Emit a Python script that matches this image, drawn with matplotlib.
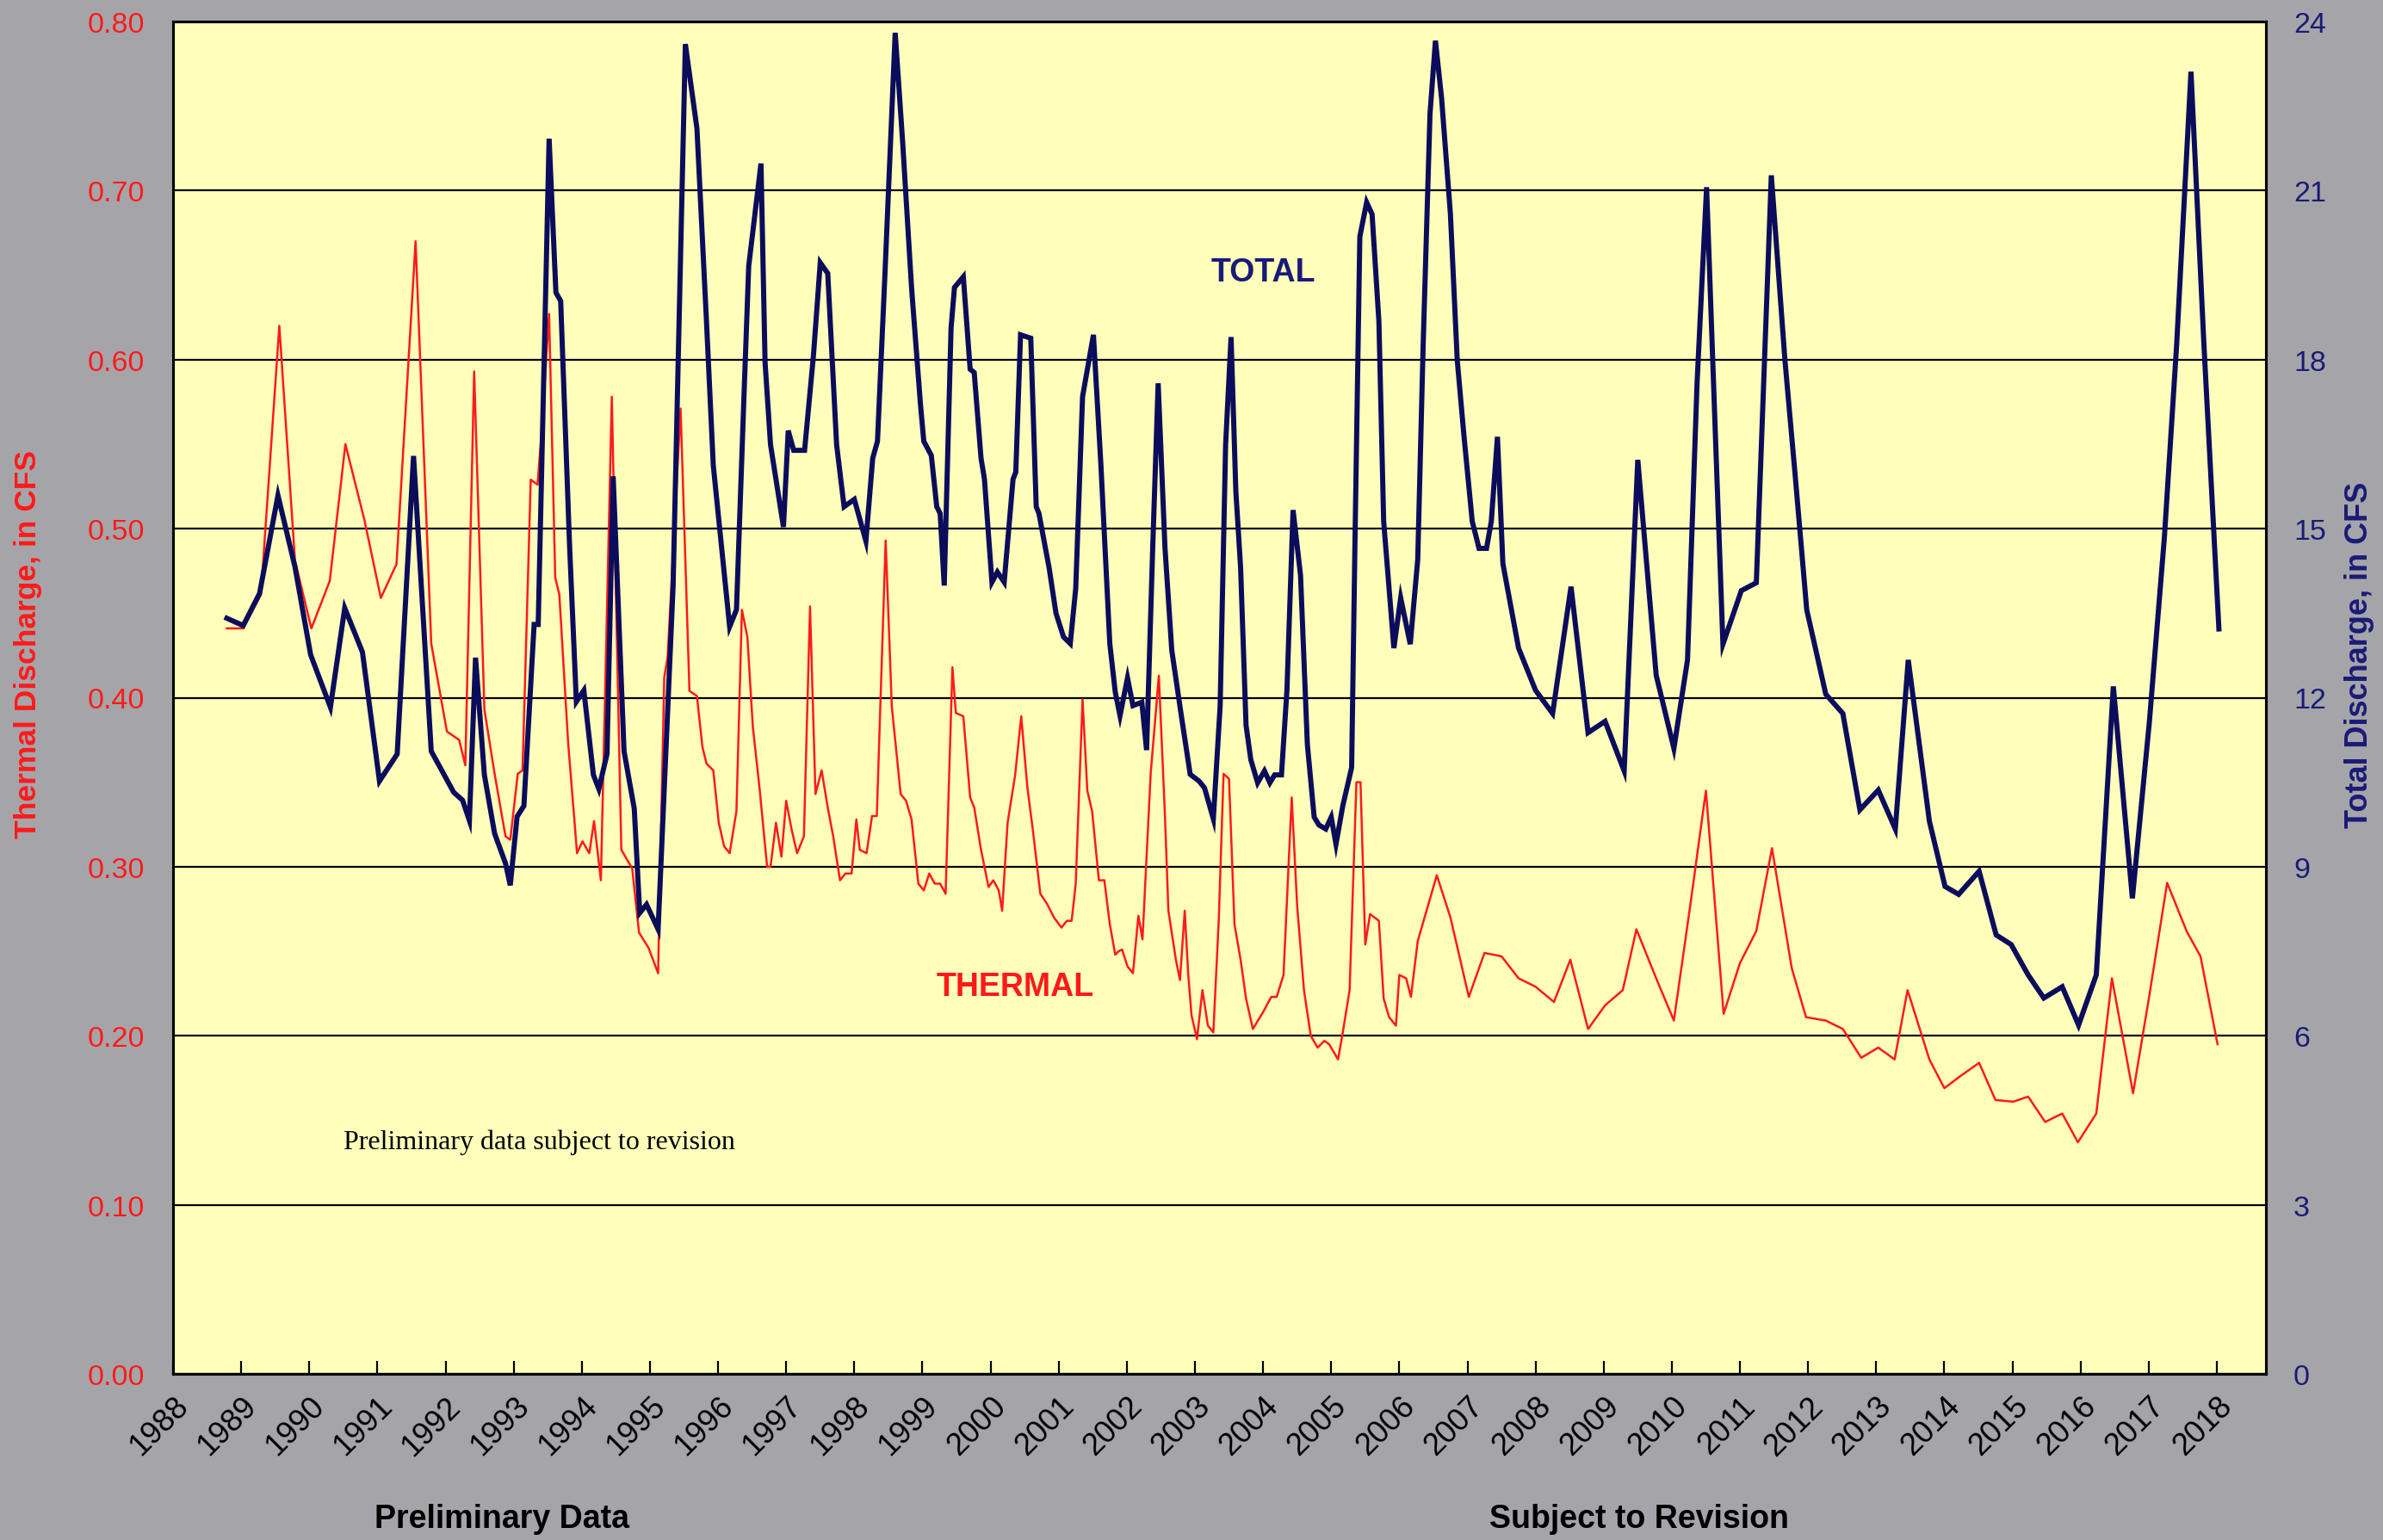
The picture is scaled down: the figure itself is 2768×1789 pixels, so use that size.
import numpy as np
import matplotlib
matplotlib.use("Agg")
import matplotlib.pyplot as plt
from matplotlib.ticker import FormatStrFormatter

# ---- data (decimal years) ----
total_years = [
    1988.79, 1989.03, 1989.27, 1989.54, 1989.79, 1990.02, 1990.31, 1990.52, 1990.78, 1991.03,
    1991.29, 1991.53, 1991.79, 1992.12, 1992.25, 1992.35, 1992.44, 1992.57, 1992.72, 1992.88,
    1992.95, 1993.05, 1993.15, 1993.30, 1993.36, 1993.52, 1993.62, 1993.69, 1993.82, 1993.92,
    1994.03, 1994.17, 1994.25, 1994.37, 1994.46, 1994.62, 1994.77, 1994.85, 1994.95, 1995.12,
    1995.29, 1995.34, 1995.52, 1995.69, 1995.83, 1995.93, 1996.17, 1996.27, 1996.38, 1996.45,
    1996.63, 1996.69, 1996.77, 1996.96, 1997.03, 1997.11, 1997.27, 1997.40, 1997.50, 1997.61,
    1997.74, 1997.85, 1998.00, 1998.17, 1998.27, 1998.34, 1998.45, 1998.60, 1998.71, 1998.84,
    1998.97, 1999.02, 1999.13, 1999.21, 1999.26, 1999.32, 1999.42, 1999.47, 1999.60, 1999.70,
    1999.76, 1999.86, 1999.91, 2000.02, 2000.10, 2000.20, 2000.33, 2000.37, 2000.44, 2000.59,
    2000.67, 2000.71, 2000.86, 2000.96, 2001.07, 2001.17, 2001.25, 2001.35, 2001.51, 2001.62,
    2001.75, 2001.83, 2001.90, 2002.01, 2002.09, 2002.22, 2002.29, 2002.38, 2002.46, 2002.56,
    2002.66, 2002.80, 2002.93, 2003.06, 2003.14, 2003.27, 2003.37, 2003.45, 2003.53, 2003.60,
    2003.67, 2003.75, 2003.82, 2003.92, 2004.02, 2004.10, 2004.17, 2004.27, 2004.35, 2004.44,
    2004.55, 2004.65, 2004.75, 2004.82, 2004.92, 2005.00, 2005.07, 2005.17, 2005.30, 2005.35,
    2005.42, 2005.52, 2005.60, 2005.70, 2005.77, 2005.92, 2006.02, 2006.16, 2006.27, 2006.35,
    2006.45, 2006.53, 2006.62, 2006.75, 2006.85, 2006.95, 2007.07, 2007.17, 2007.28, 2007.35,
    2007.44, 2007.52, 2007.75, 2008.00, 2008.25, 2008.52, 2008.77, 2009.02, 2009.30, 2009.50,
    2009.77, 2010.03, 2010.23, 2010.37, 2010.51, 2010.62, 2010.75, 2011.02, 2011.24, 2011.46,
    2011.66, 2011.81, 2011.98, 2012.26, 2012.51, 2012.76, 2013.03, 2013.28, 2013.47, 2013.78,
    2014.01, 2014.21, 2014.51, 2014.76, 2014.98, 2015.23, 2015.46, 2015.73, 2015.97, 2016.23,
    2016.48, 2016.76, 2017.01, 2017.23, 2017.41, 2017.62, 2017.81, 2018.03,
]
total_cfs = [
    13.41, 13.28, 13.85, 15.59, 14.32, 12.76, 11.83, 13.59, 12.81, 10.52,
    11.00, 16.29, 11.05, 10.32, 10.18, 9.82, 12.71, 10.63, 9.59, 9.06,
    8.67, 9.89, 10.08, 13.30, 13.30, 21.92, 19.19, 19.04, 14.71, 11.93,
    12.13, 10.63, 10.38, 11.00, 15.93, 11.05, 10.03, 8.18, 8.33, 7.89,
    12.57, 13.98, 23.60, 22.10, 18.68, 16.12, 13.26, 13.56, 17.34, 19.66,
    21.48, 17.95, 16.49, 15.03, 16.74, 16.39, 16.39, 18.07, 19.72, 19.53,
    16.49, 15.39, 15.52, 14.78, 16.25, 16.55, 19.53, 23.80, 21.85, 19.28,
    17.22, 16.55, 16.30, 15.39, 15.27, 13.99, 18.56, 19.28, 19.47, 17.83,
    17.77, 16.25, 15.88, 14.05, 14.23, 14.05, 15.88, 16.00, 18.44, 18.38,
    15.39, 15.27, 14.30, 13.50, 13.08, 12.96, 13.94, 17.34, 18.44, 16.12,
    12.96, 12.10, 11.68, 12.35, 11.86, 11.92, 11.07, 14.66, 17.58, 14.66,
    12.84, 11.68, 10.64, 10.52, 10.40, 9.85, 11.86, 16.49, 18.40, 15.67,
    14.31, 11.51, 10.90, 10.49, 10.70, 10.49, 10.63, 10.63, 12.13, 15.33,
    14.17, 11.17, 9.88, 9.74, 9.67, 9.88, 9.40, 10.08, 10.76, 14.86,
    20.18, 20.79, 20.58, 18.68, 15.13, 12.88, 13.77, 12.95, 14.45, 18.27,
    22.36, 23.66, 22.64, 20.58, 17.99, 16.63, 15.13, 14.65, 14.65, 15.13,
    16.63, 14.38, 12.88, 12.13, 11.72, 13.97, 11.38, 11.58, 10.70, 16.22,
    12.40, 11.10, 12.67, 17.58, 21.06, 17.31, 12.95, 13.90, 14.04, 21.27,
    17.99, 15.95, 13.56, 12.06, 11.72, 10.01, 10.36, 9.67, 12.67, 9.81,
    8.65, 8.51, 8.92, 7.79, 7.62, 7.08, 6.67, 6.87, 6.19, 7.08,
    12.20, 8.44, 11.58, 14.85, 18.27, 23.11, 18.27, 13.22,
]

thermal_years = [
    1988.79, 1989.03, 1989.29, 1989.56, 1989.79, 1990.03, 1990.30, 1990.53, 1990.81, 1991.05,
    1991.28, 1991.56, 1991.79, 1992.02, 1992.20, 1992.29, 1992.42, 1992.57, 1992.72, 1992.88,
    1992.95, 1993.06, 1993.13, 1993.25, 1993.35, 1993.40, 1993.52, 1993.61, 1993.67, 1993.80,
    1993.93, 1994.01, 1994.11, 1994.18, 1994.28, 1994.44, 1994.58, 1994.74, 1994.84, 1994.98,
    1995.12, 1995.21, 1995.26, 1995.45, 1995.58, 1995.69, 1995.77, 1995.83, 1995.93, 1996.01,
    1996.09, 1996.17, 1996.27, 1996.35, 1996.43, 1996.51, 1996.61, 1996.72, 1996.77, 1996.85,
    1996.93, 1997.00, 1997.08, 1997.16, 1997.26, 1997.35, 1997.43, 1997.52, 1997.61, 1997.69,
    1997.79, 1997.87, 1997.96, 1998.03, 1998.08, 1998.18, 1998.26, 1998.33, 1998.46, 1998.55,
    1998.68, 1998.76, 1998.84, 1998.94, 1999.02, 1999.10, 1999.18, 1999.26, 1999.34, 1999.44,
    1999.49, 1999.60, 1999.70, 1999.76, 1999.86, 1999.97, 2000.04, 2000.12, 2000.17, 2000.25,
    2000.36, 2000.45, 2000.54, 2000.62, 2000.73, 2000.83, 2000.93, 2001.04, 2001.12, 2001.19,
    2001.25, 2001.35, 2001.42, 2001.49, 2001.59, 2001.67, 2001.75, 2001.83, 2001.88, 2001.93,
    2002.01, 2002.09, 2002.17, 2002.23, 2002.35, 2002.47, 2002.56, 2002.61, 2002.72, 2002.78,
    2002.85, 2002.90, 2002.95, 2003.03, 2003.11, 2003.19, 2003.27, 2003.35, 2003.42, 2003.50,
    2003.58, 2003.67, 2003.75, 2003.85, 2004.00, 2004.12, 2004.20, 2004.30, 2004.42, 2004.50,
    2004.60, 2004.70, 2004.80, 2004.90, 2004.97, 2005.10, 2005.17, 2005.27, 2005.37, 2005.43,
    2005.50, 2005.57, 2005.70, 2005.77, 2005.85, 2005.95, 2006.00, 2006.10, 2006.17, 2006.27,
    2006.55, 2006.75, 2007.02, 2007.25, 2007.50, 2007.75, 2008.00, 2008.27, 2008.51, 2008.77,
    2009.02, 2009.28, 2009.48, 2009.77, 2010.03, 2010.27, 2010.50, 2010.76, 2011.00, 2011.24,
    2011.47, 2011.76, 2011.97, 2012.26, 2012.51, 2012.78, 2013.03, 2013.27, 2013.46, 2013.78,
    2014.00, 2014.23, 2014.51, 2014.75, 2015.01, 2015.23, 2015.48, 2015.73, 2015.96, 2016.23,
    2016.46, 2016.77, 2017.01, 2017.27, 2017.56, 2017.76, 2018.01,
]
thermal_cfs = [
    0.441, 0.441, 0.461, 0.620, 0.481, 0.441, 0.469, 0.550, 0.505, 0.459,
    0.479, 0.670, 0.432, 0.380, 0.375, 0.360, 0.593, 0.393, 0.355, 0.318,
    0.316, 0.355, 0.357, 0.529, 0.526, 0.552, 0.627, 0.471, 0.461, 0.373,
    0.308, 0.315, 0.308, 0.327, 0.292, 0.578, 0.310, 0.299, 0.261, 0.252,
    0.237, 0.412, 0.424, 0.571, 0.404, 0.401, 0.371, 0.361, 0.357, 0.326,
    0.312, 0.308, 0.333, 0.452, 0.436, 0.383, 0.346, 0.300, 0.300, 0.326,
    0.306, 0.339, 0.322, 0.308, 0.318, 0.454, 0.343, 0.357, 0.335, 0.318,
    0.292, 0.296, 0.296, 0.328, 0.310, 0.308, 0.330, 0.330, 0.493, 0.395,
    0.343, 0.339, 0.328, 0.290, 0.286, 0.296, 0.290, 0.290, 0.284, 0.418,
    0.391, 0.389, 0.341, 0.335, 0.310, 0.288, 0.292, 0.286, 0.274, 0.326,
    0.354, 0.389, 0.347, 0.322, 0.284, 0.278, 0.270, 0.264, 0.268, 0.268,
    0.290, 0.399, 0.345, 0.333, 0.292, 0.292, 0.266, 0.248, 0.250, 0.251,
    0.241, 0.237, 0.271, 0.257, 0.355, 0.413, 0.330, 0.274, 0.245, 0.233,
    0.274, 0.237, 0.212, 0.198, 0.227, 0.206, 0.202, 0.269, 0.355, 0.352,
    0.266, 0.245, 0.222, 0.204, 0.214, 0.223, 0.223, 0.236, 0.341, 0.277,
    0.227, 0.200, 0.193, 0.197, 0.195, 0.186, 0.202, 0.227, 0.350, 0.350,
    0.254, 0.272, 0.268, 0.222, 0.211, 0.206, 0.236, 0.234, 0.223, 0.256,
    0.295, 0.270, 0.223, 0.249, 0.247, 0.234, 0.229, 0.220, 0.245, 0.204,
    0.218, 0.227, 0.263, 0.234, 0.209, 0.277, 0.345, 0.213, 0.243, 0.262,
    0.311, 0.240, 0.211, 0.209, 0.204, 0.187, 0.193, 0.186, 0.227, 0.186,
    0.169, 0.176, 0.184, 0.162, 0.161, 0.164, 0.149, 0.154, 0.137, 0.154,
    0.234, 0.166, 0.224, 0.2905, 0.2615, 0.247, 0.195,
]

year_ticks = list(range(1988, 2019))
thermal_ticks = [0.0, 0.1, 0.2, 0.3, 0.4, 0.5, 0.6, 0.7, 0.8]
total_ticks = [0, 3, 6, 9, 12, 15, 18, 21, 24]

# ---- style ----
BG = "#a5a5a9"
PLOT_BG = "#ffffbb"
RED = "#ff1a1a"
NAVY = "#0c0c5c"
NAVY_TXT = "#1a1a78"

plt.rcParams["font.family"] = ["Liberation Sans", "DejaVu Sans"]

fig = plt.figure(figsize=(27.68, 17.90), dpi=100, facecolor=BG)
ax = fig.add_axes([201 / 2768, 1 - 1597 / 1790, (2632 - 201) / 2768, (1597 - 26) / 1790])
ax.set_facecolor(PLOT_BG)
ax2 = ax.twinx()

ax.plot(thermal_years, thermal_cfs, color=RED, lw=1.8, zorder=3)
ax2.plot(total_years, total_cfs, color=NAVY, lw=4.3, zorder=3, solid_joinstyle="miter")

ax.set_xlim(1988, 2018.72)
ax.set_ylim(0, 0.8)
ax2.set_ylim(0, 24)

ax.set_yticks(thermal_ticks)
ax.yaxis.set_major_formatter(FormatStrFormatter("%.2f"))
ax2.set_yticks(total_ticks)
ax.grid(axis="y", color="black", lw=1.6)
ax.set_axisbelow(True)

ax.set_xticks(year_ticks)
ax.set_xticklabels([str(y) for y in year_ticks], rotation=45, ha="right",
                   va="top", rotation_mode="anchor", fontsize=26)
ax.tick_params(axis="x", direction="in", length=11, width=1.6, pad=14, colors="black")
ax.tick_params(axis="y", length=0, pad=24, labelsize=24.5, labelcolor=RED)
ax2.tick_params(axis="y", length=0, pad=23, labelsize=24.5, labelcolor=NAVY_TXT)

for a in (ax, ax2):
    for s in a.spines.values():
        s.set_color("black")
        s.set_linewidth(2.2)

# labels and annotations
fig.text(33 / 2768, 1 - 749 / 1790, "Thermal Discharge, in CFS", rotation=90,
         color=RED, fontsize=25.5, fontweight="bold", ha="center", va="center")
fig.text(2740 / 2768, 1 - 761 / 1790, "Total Discharge, in CFS", rotation=90,
         color=NAVY_TXT, fontsize=26, fontweight="bold", ha="center", va="center")

ax2.text(2004.0, 19.55, "TOTAL", color=NAVY_TXT, fontsize=27, fontweight="bold",
         ha="center", va="center")
ax.text(2000.36, 0.229, "THERMAL", color=RED, fontsize=27, fontweight="bold",
        ha="center", va="center")
ax.text(1990.5, 0.1375, "Preliminary data subject to revision",
        family=["Liberation Serif", "DejaVu Serif"], fontsize=23, color="black",
        ha="left", va="center")

fig.text(583 / 2768, 1 - 1765 / 1790, "Preliminary Data", fontsize=27,
         fontweight="bold", ha="center", va="center")
fig.text(1904 / 2768, 1 - 1765 / 1790, "Subject to Revision", fontsize=27,
         fontweight="bold", ha="center", va="center")

fig.savefig("out.png", dpi=100, facecolor=BG)
plt.close(fig)
